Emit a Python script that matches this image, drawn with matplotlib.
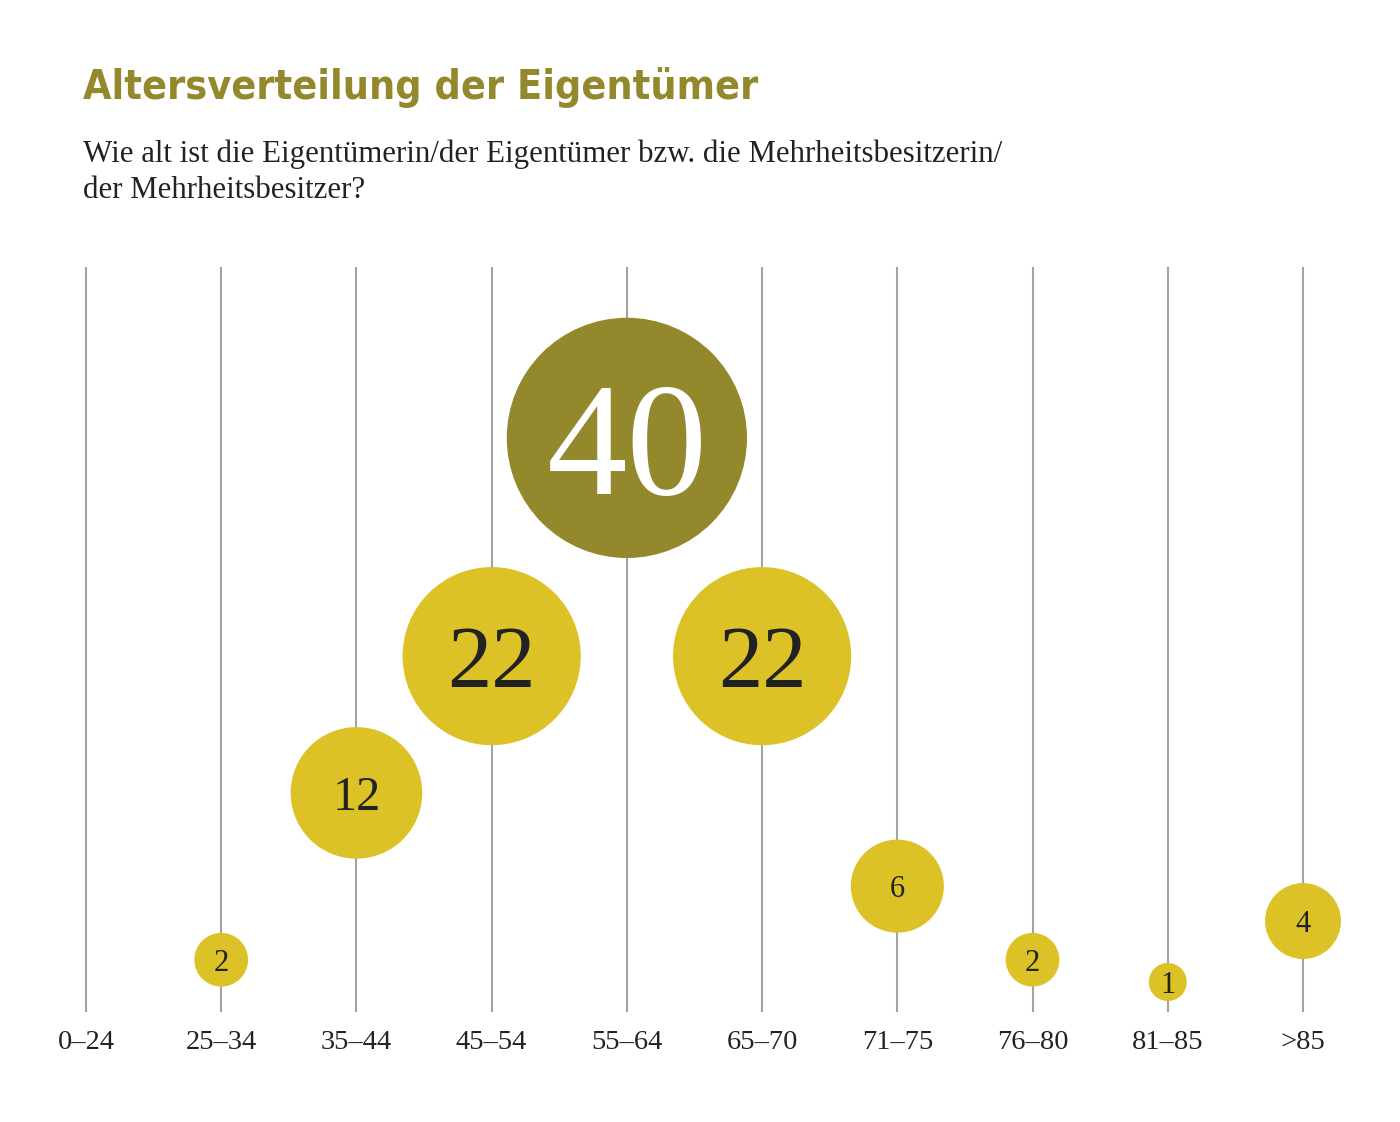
import numpy as np
import matplotlib
matplotlib.use("Agg")
import matplotlib.pyplot as plt

# data
age_groups = ["0–24", "25–34", "35–44", "45–54", "55–64", "65–70", "71–75", "76–80", "81–85", ">85"]
shares = [0, 2, 12, 22, 40, 22, 6, 2, 1, 4]
highlight = "55–64"

title = "Altersverteilung der Eigentümer"
subtitle_lines = ["Wie alt ist die Eigentümerin/der Eigentümer bzw. die Mehrheitsbesitzerin/",
                  "der Mehrheitsbesitzer?"]

olive = "#93882c"
yellow = "#dcc226"
grid_gray = "#a3a3a3"
serif = ["Liberation Serif", "DejaVu Serif"]

fig = plt.figure(figsize=(14, 11.22), dpi=100)
unit = 1217 / 9
ax = fig.add_axes([(86 - unit / 2) / 1400, 110 / 1122, unit * 10 / 1400, 745 / 1122])


def fwd(v):
    v = np.asarray(v, dtype=float)
    return np.sign(v) * np.abs(v) ** 0.8


def inv(w):
    w = np.asarray(w, dtype=float)
    return np.sign(w) * np.abs(w) ** 1.25


ax.set_yscale("function", functions=(fwd, inv))
ax.set_xlim(-0.5, len(age_groups) - 0.5)
ax.set_ylim(0, 55.4)

x = np.arange(len(age_groups))
for xi in x:
    ax.axvline(xi, color=grid_gray, lw=1.5, zorder=1)

# bubbles (area proportional to value)
for xi, lab, v in zip(x, age_groups, shares):
    if v <= 0:
        continue
    col = olive if lab == highlight else yellow
    ax.scatter(xi, v, s=748 * v, color=col, edgecolors="none", zorder=3, clip_on=False)
    fs = max(22, 2.9 * v)
    tcol = "white" if lab == highlight else "#222222"
    ax.text(xi, v, str(v), ha="center", va="center_baseline", fontsize=fs,
            color=tcol, family=serif, zorder=4)

ax.set_xticks(x)
ax.set_xticklabels(age_groups, family=serif, fontsize=20.5, color="#222222")
ax.tick_params(axis="x", length=0, pad=13)
ax.set_yticks([])
for sp in ax.spines.values():
    sp.set_visible(False)

fig.text(83 / 1400, 1 - 99 / 1122, title, fontsize=29.5, fontweight="bold", color=olive,
         family="DejaVu Sans", fontstretch="condensed", ha="left", va="baseline")
for i, line in enumerate(subtitle_lines):
    fig.text(83 / 1400, 1 - (162 + 36 * i) / 1122, line, fontsize=22.2, color="#222222",
             family=serif, ha="left", va="baseline")

fig.savefig("out.png", dpi=100)
